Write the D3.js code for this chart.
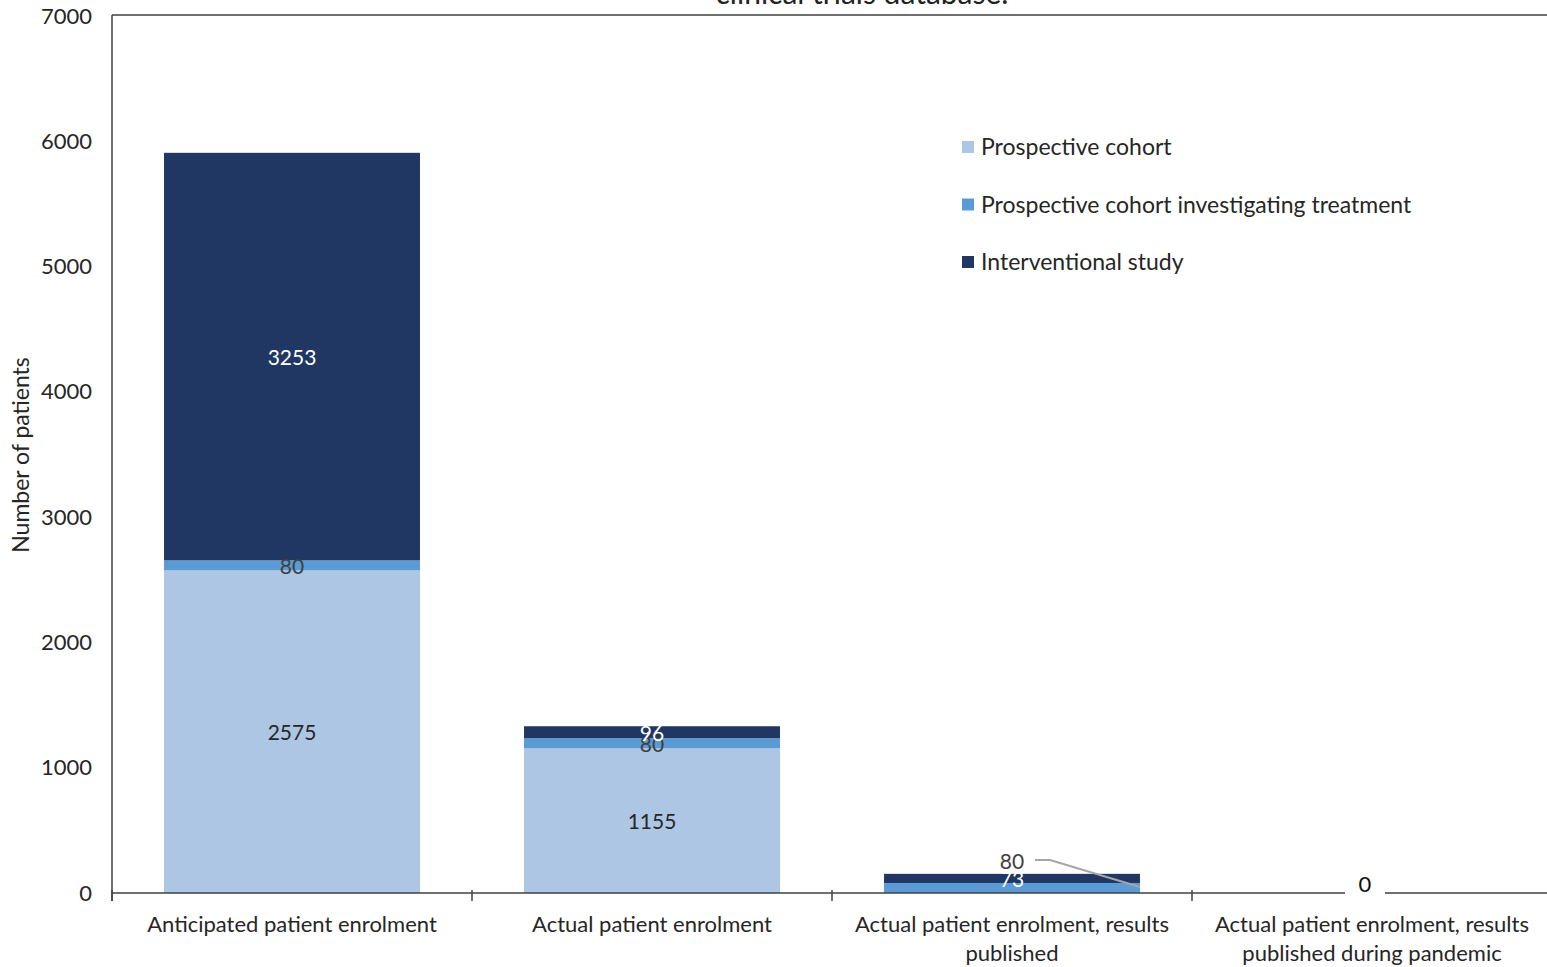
<!DOCTYPE html>
<html>
<head>
<meta charset="utf-8">
<script src="https://cdn.jsdelivr.net/npm/d3@7"></script>
<style>
  body { margin: 0; background: #fff; }
  svg { display: block; font-family: Lato, "Open Sans", sans-serif; }
</style>
</head>
<body>
<svg id="chart"></svg>
<script>
// Kategorije in vrednosti
const categories = [
  "Anticipated patient enrolment",
  "Actual patient enrolment",
  "Actual patient enrolment, results published",
  "Actual patient enrolment, results published during pandemic"
];
const seriesNames = ["Prospective cohort", "Prospective cohort investigating treatment", "Interventional study"];
const prospective = [2575, 1155, 0, 0];
const treatment = [80, 80, 80, 0];
const interventional = [3253, 96, 73, 0];
const yTicks = [0, 1000, 2000, 3000, 4000, 5000, 6000, 7000];

const colors = ["#adc6e4", "#5b9bd5", "#213763"];
const labelColors = ["#262626", "#404040", "#ffffff"];

const width = 1547, height = 967;
const margin = { top: 16, left: 112, bottom: 74 };

const svg = d3.select("#chart").attr("width", width).attr("height", height);

const x = d3.scaleBand()
  .domain(categories)
  .range([margin.left, margin.left + 360 * categories.length])
  .paddingInner(0.289)
  .paddingOuter(0.1445);

const y = d3.scaleLinear().domain([0, 7000]).range([height - margin.bottom, margin.top]);

// Naslov (odrezan na vrhu)
svg.append("text")
  .attr("x", 862).attr("y", 4)
  .attr("text-anchor", "middle")
  .attr("font-size", 30)
  .attr("fill", "#222")
  .text("clinical trials database.");

// Okvir zgoraj
svg.append("line")
  .attr("x1", margin.left).attr("x2", width)
  .attr("y1", 15).attr("y2", 15)
  .attr("stroke", "#404040").attr("stroke-width", 1.5);

// Skladi
const table = categories.map((c, i) => ({
  cat: c, prospective: prospective[i], treatment: treatment[i], interventional: interventional[i]
}));
const keys = ["prospective", "treatment", "interventional"];
const stacked = d3.stack().keys(keys)(table);

const layers = svg.append("g").selectAll("g")
  .data(stacked)
  .join("g")
  .attr("fill", (d, i) => colors[i]);

layers.selectAll("rect")
  .data(d => d)
  .join("rect")
  .attr("x", d => x(d.data.cat))
  .attr("width", x.bandwidth())
  .attr("y", d => y(d[1]))
  .attr("height", d => y(d[0]) - y(d[1]));

// Y os
const yAxis = svg.append("g")
  .attr("transform", `translate(${margin.left},0)`)
  .call(d3.axisLeft(y).tickValues(yTicks).tickSize(0).tickPadding(20).tickFormat(d3.format("d")));
yAxis.select(".domain").attr("stroke", "#404040").attr("stroke-width", 1.5)
  .attr("d", `M0,15V${y(0) + 8}`);
yAxis.selectAll("text").attr("font-size", 22).attr("fill", "#262626").attr("font-family", "Lato");

// X os
const xAxisY = y(0);
svg.append("line")
  .attr("x1", margin.left).attr("x2", width)
  .attr("y1", xAxisY).attr("y2", xAxisY)
  .attr("stroke", "#404040").attr("stroke-width", 1.5);

const tickXs = d3.range(categories.length + 1).map(i => margin.left + i * x.step());
svg.append("g").selectAll("line")
  .data(tickXs)
  .join("line")
  .attr("x1", d => d).attr("x2", d => d)
  .attr("y1", xAxisY - 3).attr("y2", xAxisY + 8)
  .attr("stroke", "#404040").attr("stroke-width", 1.5);

// Oznake kategorij (prelom vrstic)
const catLines = [
  ["Anticipated patient enrolment"],
  ["Actual patient enrolment"],
  ["Actual patient enrolment, results", "published"],
  ["Actual patient enrolment, results", "published during pandemic"]
];
categories.forEach((c, i) => {
  const t = svg.append("text")
    .attr("x", x(c) + x.bandwidth() / 2)
    .attr("y", 932)
    .attr("text-anchor", "middle")
    .attr("font-size", 22)
    .attr("fill", "#262626");
  catLines[i].forEach((line, j) => {
    t.append("tspan").attr("x", x(c) + x.bandwidth() / 2).attr("dy", j === 0 ? 0 : 29).text(line);
  });
});

// Naslov y osi
svg.append("text")
  .attr("transform", "translate(29,455) rotate(-90)")
  .attr("text-anchor", "middle")
  .attr("font-size", 23)
  .attr("fill", "#262626")
  .text("Number of patients");

// Podatkovne oznake
stacked.forEach((layer, si) => {
  layer.forEach((d, ci) => {
    const v = d[1] - d[0];
    const cx = x(d.data.cat) + x.bandwidth() / 2;
    if (v === 0) return;
    let ly = (y(d[0]) + y(d[1])) / 2;
    if (ci === 2 && si === 1) {
      // Premaknjena oznaka s povezovalno črto
      const lx = cx, lyy = 862;
      svg.append("polyline")
        .attr("points", `${lx + 23},${lyy - 2} ${lx + 38},${lyy - 2} ${x(d.data.cat) + x.bandwidth()},${ly - 1}`)
        .attr("fill", "none").attr("stroke", "#a6a6a6").attr("stroke-width", 2);
      svg.append("text")
        .attr("x", lx).attr("y", lyy).attr("dy", "0.35em")
        .attr("text-anchor", "middle").attr("font-size", 21)
        .attr("fill", labelColors[si]).text(v);
      return;
    }
    svg.append("text")
      .attr("x", cx).attr("y", ly + 1).attr("dy", "0.35em")
      .attr("text-anchor", "middle").attr("font-size", 21)
      .attr("fill", labelColors[si]).text(v);
  });
});

// Oznaka 0 za zadnji stolpec (z belim ozadjem)
const lastCat = categories[3];
const zx = x(lastCat) + x.bandwidth() / 2 - 7;
svg.append("rect")
  .attr("x", zx - 20).attr("y", y(0) - 20).attr("width", 40).attr("height", 26)
  .attr("fill", "#fff");
svg.append("text")
  .attr("x", zx).attr("y", y(0) - 9).attr("dy", "0.35em")
  .attr("text-anchor", "middle").attr("font-size", 22)
  .attr("fill", "#111").text(prospective[3]);

// Legenda
const legend = svg.append("g").attr("transform", "translate(962,147)");
seriesNames.forEach((name, i) => {
  const g = legend.append("g").attr("transform", `translate(0,${i * 57.5})`);
  g.append("rect").attr("x", 0).attr("y", -6).attr("width", 12).attr("height", 12).attr("fill", colors[i]);
  g.append("text").attr("x", 19).attr("y", 0).attr("dy", "0.35em")
    .attr("font-size", 23).attr("fill", "#262626").text(name);
});
</script>
</body>
</html>
